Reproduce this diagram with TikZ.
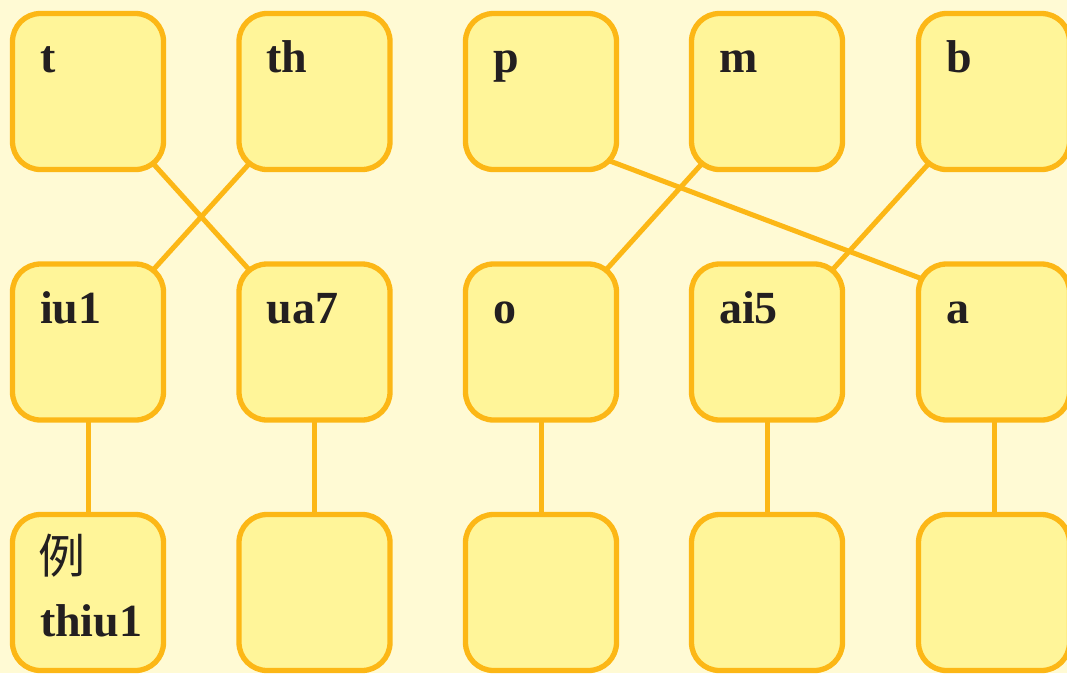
\documentclass[tikz,border=0pt]{standalone}
\usepackage{fontspec}
\setmainfont{Liberation Serif}
\newfontfamily\cjk{Noto Sans CJK SC}
\usetikzlibrary{backgrounds,calc}
\definecolor{bgc}{RGB}{255,250,212}
\definecolor{boxfill}{RGB}{255,245,153}
\definecolor{boxline}{RGB}{252,183,22}
\definecolor{txt}{RGB}{35,31,32}
\begin{document}
\begin{tikzpicture}[x=1pt,y=1pt,
  cell/.style={draw=boxline,fill=boxfill,line width=5.3pt,rounded corners=28pt,
    minimum width=151pt,minimum height=156pt,inner sep=0pt},
  lab/.style={anchor=base west,inner sep=0pt,
    font=\fontsize{46}{50}\selectfont\bfseries,text=txt},
  cjklab/.style={anchor=center,inner sep=0pt,
    font=\cjk\fontsize{47}{50}\selectfont,text=txt},
  conn/.style={draw=boxline,line width=5pt}]
\begin{pgfonlayer}{background}
  \fill[bgc] (0,0) rectangle (1067,-673);
\end{pgfonlayer}
\useasboundingbox (0,0) rectangle (1067,-673);
% row 1
\node[cell] (t)  at (88,-91.5) {};
\node[cell] (th) at (314.5,-91.5) {};
\node[cell] (p)  at (541,-91.5) {};
\node[cell] (m)  at (767,-91.5) {};
\node[cell] (b)  at (994,-91.5) {};
% row 2
\node[cell] (iu1) at (88,-342) {};
\node[cell] (ua7) at (314.5,-342) {};
\node[cell] (o)   at (541,-342) {};
\node[cell] (ai5) at (767,-342) {};
\node[cell] (a)   at (994,-342) {};
% row 3
\node[cell] (r1) at (88,-592.5) {};
\node[cell] (r2) at (314.5,-592.5) {};
\node[cell] (r3) at (541,-592.5) {};
\node[cell] (r4) at (767,-592.5) {};
\node[cell] (r5) at (994,-592.5) {};
% labels
\node[lab] (lt)   at ($(t.north west)+(30,-62)$) {t};
\node[lab] (lth)  at ($(th.north west)+(30,-62)$) {th};
\node[lab] (lp)   at ($(p.north west)+(30,-62)$) {p};
\node[lab] (lm)   at ($(m.north west)+(30,-62)$) {m};
\node[lab] (lb)   at ($(b.north west)+(30,-62)$) {b};
\node[lab] (liu1) at ($(iu1.north west)+(30,-62)$) {iu1};
\node[lab] (lua7) at ($(ua7.north west)+(30,-62)$) {ua7};
\node[lab] (lo)   at ($(o.north west)+(30,-62)$) {o};
\node[lab] (lai5) at ($(ai5.north west)+(30,-62)$) {ai5};
\node[lab] (la)   at ($(a.north west)+(30,-62)$) {a};
\node[cjklab] (lli) at ($(r1.north west)+(52,-44)$) {例};
\node[lab] (lthiu1) at ($(r1.north west)+(30,-124.5)$) {thiu1};
% connectors
\begin{pgfonlayer}{background}
  \draw[conn] (t.center) -- (ua7.center);
  \draw[conn] (th.center) -- (iu1.center);
  \draw[conn] (m.center) -- (o.center);
  \draw[conn] (b.center) -- (ai5.center);
  \draw[conn] ($(p.center)+(0,-43.5)$) -- ($(a.center)+(0,36)$);
  \draw[conn] (iu1.center) -- (r1.center);
  \draw[conn] (ua7.center) -- (r2.center);
  \draw[conn] (o.center) -- (r3.center);
  \draw[conn] (ai5.center) -- (r4.center);
  \draw[conn] (a.center) -- (r5.center);
\end{pgfonlayer}
\end{tikzpicture}
\end{document}
